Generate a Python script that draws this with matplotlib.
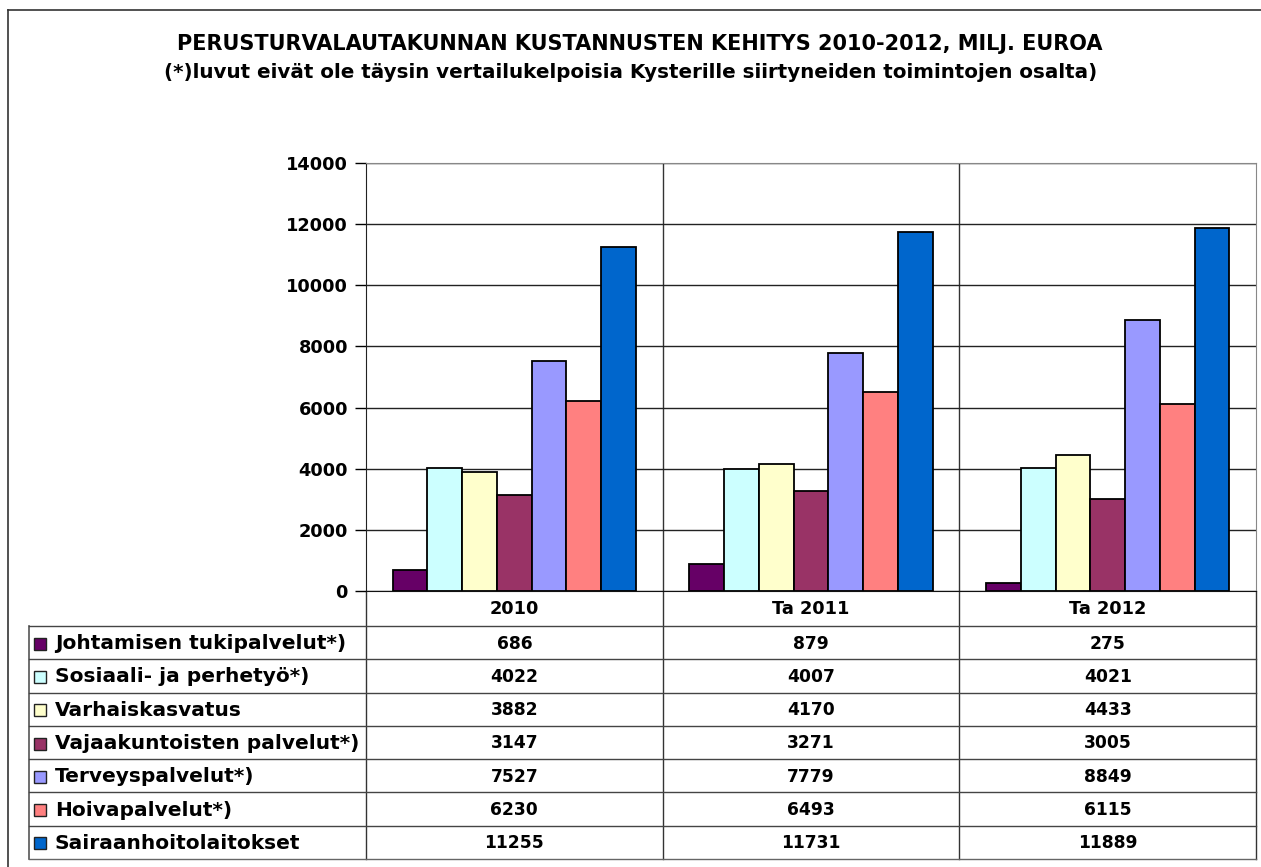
import numpy as np
import matplotlib.pyplot as plt
from matplotlib.transforms import blended_transform_factory

years = ['2010', 'Ta 2011', 'Ta 2012']
series = ['Johtamisen tukipalvelut*)', 'Sosiaali- ja perhetyö*)', 'Varhaiskasvatus',
          'Vajaakuntoisten palvelut*)', 'Terveyspalvelut*)', 'Hoivapalvelut*)',
          'Sairaanhoitolaitokset']
johtaminen = [686, 879, 275]
sosiaali = [4022, 4007, 4021]
varhais = [3882, 4170, 4433]
vajaa = [3147, 3271, 3005]
terveys = [7527, 7779, 8849]
hoiva = [6230, 6493, 6115]
sairaala = [11255, 11731, 11889]
values = [johtaminen, sosiaali, varhais, vajaa, terveys, hoiva, sairaala]
colors = ['#660066', '#CCFFFF', '#FFFFCC', '#993366', '#9999FF', '#FF8080', '#0066CC']

W, H = 1261, 867
fig = plt.figure(figsize=(W / 100, H / 100), dpi=100)
plt.rcParams['font.family'] = ['DejaVu Sans']

# plot area in pixel terms
x0, x1, ytop, ybot = 366, 1256, 163, 591
ax = fig.add_axes([x0 / W, 1 - ybot / H, (x1 - x0) / W, (ybot - ytop) / H])

n = len(series)
w = 0.82 / n
x = np.arange(len(years))
for i, (vals, c) in enumerate(zip(values, colors)):
    ax.bar(x + (i - (n - 1) / 2) * w, vals, w, color=c, edgecolor='black',
           linewidth=1.3, zorder=3)

ax.set_xlim(-0.5, len(years) - 0.5)
ax.set_ylim(0, 14000)
ax.set_yticks(np.arange(0, 14001, 2000))
ax.set_xticks([])
ax.yaxis.grid(True, color='#222222', linewidth=1)
for b in np.arange(0.5, len(years) - 0.5, 1):
    ax.axvline(b, color='#333333', linewidth=1, zorder=1)
for s in ['top', 'right']:
    ax.spines[s].set_color('#888888')
ax.spines['left'].set_color('#222222')
ax.spines['bottom'].set_color('#111111')
ax.tick_params(axis='y', direction='out', length=8, width=1, pad=5,
               labelsize=12.8)
for t in ax.get_yticklabels():
    t.set_fontweight('bold')

# overlay for table and frame, pixel coordinates
ov = fig.add_axes([0, 0, 1, 1], zorder=-1)
ov.set_xlim(0, W)
ov.set_ylim(H, 0)
ov.axis('off')
tr = blended_transform_factory(ax.transData, ov.transData)

# outer frame (top and left visible)
ov.plot([8, W], [10, 10], color='#333333', lw=1.2)
ov.plot([8, 8], [10, H], color='#333333', lw=1.2)

fig.text(640 / W, 1 - 44 / H, 'PERUSTURVALAUTAKUNNAN KUSTANNUSTEN KEHITYS 2010-2012, MILJ. EUROA',
         ha='center', va='center', fontsize=15, fontweight='bold')
fig.text(0.5, 1 - 73 / H,
         '(*)luvut eivät ole täysin vertailukelpoisia Kysterille siirtyneiden toimintojen osalta)',
         ha='center', va='center', fontsize=14.3, fontweight='bold')

# table
tl = 29
hdr_bot = 626
row_h = (859 - hdr_bot) / n
line_kw = dict(color='#333333', lw=1, clip_on=False)

for b in np.arange(-0.5, len(years), 1):
    ov.plot([b, b], [ybot, hdr_bot + n * row_h], transform=tr, **line_kw)
ov.plot([tl, tl], [hdr_bot, hdr_bot + n * row_h], color='#555555', lw=1.2)
for r in range(n + 1):
    yy = hdr_bot + r * row_h
    ov.plot([tl, x1], [yy, yy], color='#444444' if r < n else '#666666', lw=1)

for j, yr in enumerate(years):
    ov.text(j, (ybot + hdr_bot) / 2 + 1, yr, transform=tr, ha='center', va='center',
            fontsize=12.8, fontweight='bold')

for r, (name, vals, c) in enumerate(zip(series, values, colors)):
    yc = hdr_bot + (r + 0.5) * row_h + 1
    ov.add_patch(plt.Rectangle((34, yc - 6), 12, 12, facecolor=c,
                               edgecolor='#222222', lw=1))
    ov.text(55, yc, name, ha='left', va='center', fontsize=14.5, fontweight='bold')
    for j, v in enumerate(vals):
        ov.text(j, yc, str(v), transform=tr, ha='center', va='center',
                fontsize=12.3, fontweight='bold')

fig.savefig('out.png', dpi=100)
